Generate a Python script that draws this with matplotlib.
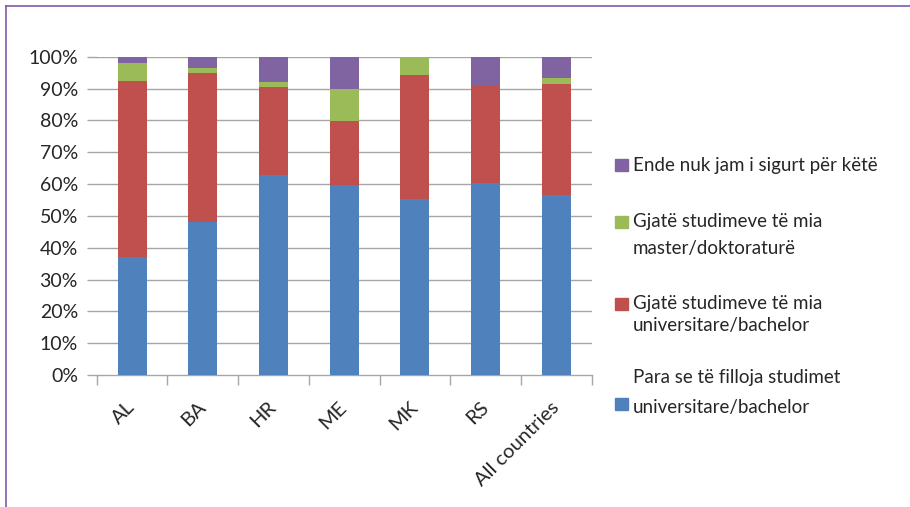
import matplotlib
matplotlib.use("Agg")
import matplotlib.pyplot as plt
from matplotlib.lines import Line2D
from matplotlib.patches import Rectangle
from matplotlib.transforms import ScaledTranslation
import numpy as np

categories = ["AL", "BA", "HR", "ME", "MK", "RS", "All countries"]
before_bachelor = [37.1, 48.2, 62.8, 59.7, 55.3, 60.3, 56.5]
during_bachelor = [55.3, 46.7, 27.7, 20.1, 39.0, 30.6, 35.0]
during_master = [5.6, 1.6, 1.6, 10.0, 5.7, 0.0, 1.9]
not_sure = [2.0, 3.5, 7.9, 10.2, 0.0, 9.1, 6.6]

series_labels = [
    ["Para se të filloja studimet", "universitare/bachelor"],
    ["Gjatë studimeve të mia", "universitare/bachelor"],
    ["Gjatë studimeve të mia", "master/doktoraturë"],
    ["Ende nuk jam i sigurt për këtë"],
]
colors = ["#4F81BD", "#C0504D", "#9BBB59", "#8064A2"]
yticks = [0, 10, 20, 30, 40, 50, 60, 70, 80, 90, 100]

plt.rcParams['font.family'] = ['Lato', 'DejaVu Sans']
W, H = 910, 507
fig = plt.figure(figsize=(W / 100, H / 100), dpi=100)
ax = fig.add_axes([96.7 / W, 1 - 375 / H, 495 / W, 318.3 / H])

x = np.arange(len(categories))
series = [before_bachelor, during_bachelor, during_master, not_sure]
bottom = np.zeros(len(categories))
for vals, c in zip(series, colors):
    v = np.array(vals)
    ax.bar(x, v, 0.41, bottom=bottom, color=c, zorder=3)
    bottom += v

ax.set_xlim(-0.5, len(categories) - 0.5)
ax.set_ylim(0, 100)
ax.set_yticks(yticks)
ax.set_yticklabels([f"{t}%" for t in yticks])
grid_c = "#A6A6A6"
for t in yticks[1:]:
    ax.axhline(t, color=grid_c, lw=1.0, zorder=1)
for s in ["top", "right", "left"]:
    ax.spines[s].set_visible(False)
ax.spines["bottom"].set_color(grid_c)
ax.spines["bottom"].set_linewidth(1.0)
ax.tick_params(axis="y", length=7, color=grid_c, width=1.0, labelsize=14,
               labelcolor="#262626", pad=6.5)
ax.set_xticks(x)
ax.set_xticklabels(categories, rotation=45, ha="right", rotation_mode="anchor")
ax.tick_params(axis="x", which="major", length=0, labelsize=14.5,
               labelcolor="#262626", pad=17)
shift = ScaledTranslation(-6 / 100, 0, fig.dpi_scale_trans)
for lbl in ax.get_xticklabels():
    lbl.set_transform(lbl.get_transform() + shift)
ax.set_xticks(np.arange(-0.5, len(categories)), minor=True)
ax.tick_params(axis="x", which="minor", length=7, color=grid_c, width=1.0)

# border lines
fig.add_artist(Line2D([6.3 / W, 1], [1 - 5.7 / H, 1 - 5.7 / H], color="#8159A8", lw=1.2))
fig.add_artist(Line2D([6.3 / W, 6.3 / W], [0, 1 - 5.7 / H], color="#8159A8", lw=1.2))

# legend (manual)
leg_items = [
    (colors[3], 165, [(166, series_labels[3][0])]),
    (colors[2], 222, [(222, series_labels[2][0]), (248.5, series_labels[2][1])]),
    (colors[1], 304, [(304, series_labels[1][0]), (325.5, series_labels[1][1])]),
    (colors[0], 404, [(378, series_labels[0][0]), (407, series_labels[0][1])]),
]
for c, sy, lines in leg_items:
    fig.add_artist(Rectangle((615 / W, 1 - (sy + 6) / H), 12.5 / W, 12.5 / H,
                             color=c, transform=fig.transFigure))
    for ly, txt in lines:
        fig.text(633 / W, 1 - ly / H, txt, fontsize=13.5, color="#262626",
                 va="center", ha="left")

fig.savefig("out.png", dpi=100)
